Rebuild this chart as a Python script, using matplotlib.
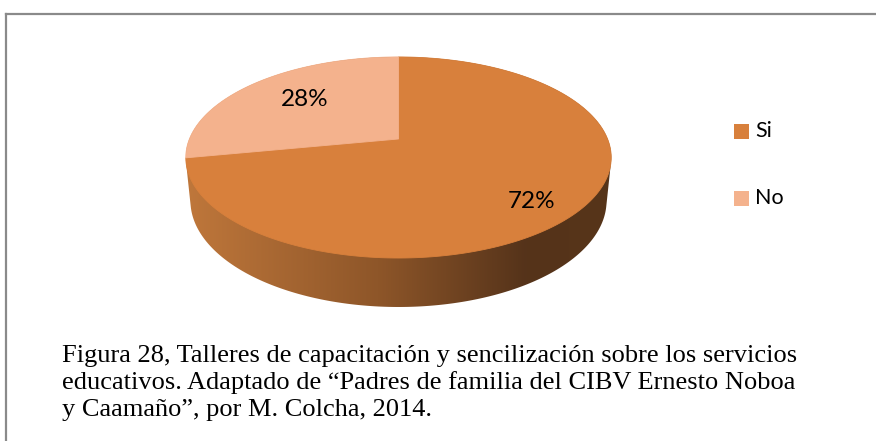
import numpy as np
import matplotlib
matplotlib.use("Agg")
import matplotlib.pyplot as plt
from matplotlib.patches import Polygon, Rectangle
from matplotlib.colors import LinearSegmentedColormap
from matplotlib.lines import Line2D

# ---- data ----
categories = ["Si", "No"]
values = [72, 28]
labels = ["72%", "28%"]
caption_lines = [
    "Figura 28, Talleres de capacitación y sencilización sobre los servicios",
    "educativos. Adaptado de \u201cPadres de familia del CIBV Ernesto Noboa",
    "y Caamaño\u201d, por M. Colcha, 2014.",
]

# ---- style ----
top_colors = ["#D8803C", "#F4B28D"]
side_cmap = LinearSegmentedColormap.from_list(
    "side", [(0, "#BF773B"), (0.45, "#8E5629"), (0.8, "#55331A"), (1, "#573519")])

W, H = 876, 441
fig = plt.figure(figsize=(W / 100, H / 100), dpi=100)
ax = fig.add_axes([0, 0, 1, 1])
ax.set_xlim(0, W)
ax.set_ylim(H, 0)
ax.axis("off")

# perspective projection of a 3D disk
cx, cy = 398.5, 139
sphi, cphi = 0.456, 0.890
D = 4.84
fx, fy = 1012, 1031
h = 0.23


def proj(X, Y, Z):
    depth = D + Y * cphi - Z * sphi
    sx = cx + fx * X / depth
    sy = cy - fy * (Y * sphi + Z * cphi) / depth
    return np.column_stack([sx, sy])


def hull(points):
    pts = sorted(map(tuple, points))
    def cross(o, a, b):
        return (a[0] - o[0]) * (b[1] - o[1]) - (a[1] - o[1]) * (b[0] - o[0])
    lower, upper = [], []
    for p in pts:
        while len(lower) >= 2 and cross(lower[-2], lower[-1], p) <= 0:
            lower.pop()
        lower.append(p)
    for p in reversed(pts):
        while len(upper) >= 2 and cross(upper[-2], upper[-1], p) <= 0:
            upper.pop()
        upper.append(p)
    return np.array(lower[:-1] + upper[:-1])


# side wall (silhouette of cylinder) with gradient
th = np.linspace(0, 2 * np.pi, 720)
top_rim = proj(np.cos(th), np.sin(th), np.zeros_like(th))
bot_rim = proj(np.cos(th), np.sin(th), -h * np.ones_like(th))
hp = hull(np.vstack([top_rim, bot_rim]))
side = Polygon(hp, closed=True, facecolor="none", edgecolor="none")
ax.add_patch(side)
x0, x1 = hp[:, 0].min(), hp[:, 0].max()
y0, y1 = hp[:, 1].min(), hp[:, 1].max()
grad = np.linspace(0, 1, 256).reshape(1, -1)
im = ax.imshow(grad, cmap=side_cmap, extent=[x0, x1, y1, y0], aspect="auto",
               interpolation="bicubic", zorder=1)
im.set_clip_path(side)
ax.set_xlim(0, W)
ax.set_ylim(H, 0)

# top face slices
total = sum(values)
start = 90.0
for v, col in zip(values, top_colors):
    a0 = np.deg2rad(start)
    a1 = np.deg2rad(start - 360.0 * v / total)
    t = np.linspace(a0, a1, 200)
    arc = proj(np.cos(t), np.sin(t), np.zeros_like(t))
    apex = proj(np.array([0.0]), np.array([0.0]), np.array([0.0]))
    poly = np.vstack([apex, arc])
    ax.add_patch(Polygon(poly, closed=True, facecolor=col, edgecolor=col,
                         linewidth=0.6, zorder=2))
    start -= 360.0 * v / total

# data labels
label_pos = [(532, 201), (305, 99)]
for (lx, ly), lab in zip(label_pos, labels):
    ax.text(lx, ly, lab, ha="center", va="center", fontsize=17.5,
            family="Lato", color="#000000", zorder=3)

# legend
leg_y = [131, 198]
for yy, col, cat in zip(leg_y, top_colors, categories):
    ax.add_patch(Rectangle((734, yy - 7.5), 15, 15, facecolor=col,
                           edgecolor="none", zorder=3))
    ax.text(755, yy, cat, ha="left", va="center", fontsize=15.5,
            family="Lato", color="#000000", zorder=3)

# caption
cap_y = [356, 383, 410]
for yy, line in zip(cap_y, caption_lines):
    ax.text(62, yy, line, ha="left", va="center", fontsize=19,
            family="Liberation Serif", color="#000000")

# border
fig.add_artist(Line2D([5.5 / W, 1], [1 - 13.5 / H, 1 - 13.5 / H],
                      color="#8a8a8a", linewidth=1.6, transform=fig.transFigure))
fig.add_artist(Line2D([5.5 / W, 5.5 / W], [0, 1 - 13.5 / H],
                      color="#8a8a8a", linewidth=1.6, transform=fig.transFigure))

fig.savefig("out.png", dpi=100)
